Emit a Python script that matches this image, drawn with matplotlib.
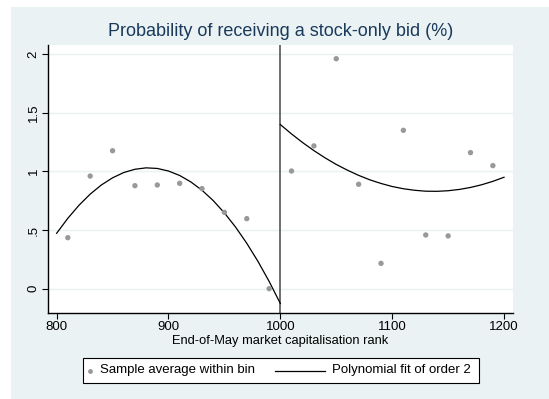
import numpy as np
import matplotlib.pyplot as plt
from matplotlib.patches import Rectangle
from matplotlib.lines import Line2D

plt.rcParams['font.family'] = ['Liberation Sans', 'DejaVu Sans']

# bin averages
bin_left = [810, 830, 850, 870, 890, 910, 930, 950, 970, 990]
avg_left = [0.435, 0.96, 1.176, 0.878, 0.884, 0.898, 0.853, 0.651, 0.597, 0.0]
bin_right = [1010, 1030, 1050, 1070, 1090, 1110, 1130, 1150, 1170, 1190]
avg_right = [1.003, 1.217, 1.96, 0.89, 0.216, 1.35, 0.458, 0.45, 1.16, 1.049]

# fitted curves
fit_x_left = [800, 810, 820, 830, 840, 850, 860, 870, 880, 890, 900,
              910, 920, 930, 940, 950, 960, 970, 980, 990, 1000]
fit_y_left = [0.472, 0.600, 0.711, 0.806, 0.884, 0.945, 0.990, 1.018, 1.030, 1.025, 1.003,
              0.965, 0.910, 0.839, 0.751, 0.646, 0.525, 0.387, 0.233, 0.062, -0.126]
fit_x_right = [1000, 1010, 1020, 1030, 1040, 1050, 1060, 1070, 1080, 1090, 1100,
               1110, 1120, 1130, 1140, 1150, 1160, 1170, 1180, 1190, 1200]
fit_y_right = [1.399, 1.319, 1.245, 1.177, 1.115, 1.059, 1.010, 0.966, 0.928, 0.897, 0.871,
               0.852, 0.839, 0.831, 0.830, 0.835, 0.846, 0.863, 0.886, 0.915, 0.950]

xticks = [800, 900, 1000, 1100, 1200]
yticks = [0, 0.5, 1, 1.5, 2]
ytick_labels = ['0', '.5', '1', '1.5', '2']

W, H = 549, 399
bg = '#eaf2f3'
dot = '#999999'
fig = plt.figure(figsize=(W / 100, H / 100), dpi=100)
fig.patch.set_facecolor('white')
fig.patches.append(Rectangle((11/W, 0), 1, 392/H, transform=fig.transFigure,
                             facecolor=bg, edgecolor='none', zorder=-10))

ax = fig.add_axes([48/W, 1-313/H, 465/W, 268/H])
ax.set_facecolor('white')

for y in yticks:
    ax.axhline(y, color=bg, lw=1, zorder=0)

ax.axvline(1000, color='#555555', lw=1.2, zorder=1)

ax.scatter(bin_left + bin_right, avg_left + avg_right, s=15, color=dot,
           edgecolors='none', zorder=3)
ax.plot(fit_x_left, fit_y_left, color='black', lw=0.9, zorder=2)
ax.plot(fit_x_right, fit_y_right, color='black', lw=0.9, zorder=2)

ax.set_xlim(792.3, 1208)
ax.set_ylim(-0.207, 2.077)
ax.set_xticks(xticks)
ax.set_yticks(yticks)
ax.set_yticklabels(ytick_labels, rotation=90, va='center')
ax.tick_params(labelsize=9.5, length=4, width=0.8, color='black', pad=2)

for side in ['top', 'right']:
    ax.spines[side].set_visible(False)
for side in ['left', 'bottom']:
    ax.spines[side].set_linewidth(1)

ax.set_xlabel('End-of-May market capitalisation rank', fontsize=9.3, labelpad=1)
fig.text(281/W, 1-31/H, 'Probability of receiving a stock-only bid (%)', fontsize=13,
         color='#1a3a5c', ha='center', va='center')

# legend box drawn by hand (Stata style)
def fx(px):
    return px / W

def fy(py):
    return 1 - py / H

fig.patches.append(Rectangle((fx(83), fy(383)), fx(479) - fx(83), fy(358) - fy(383),
                             transform=fig.transFigure, facecolor='white',
                             edgecolor='black', lw=0.8, zorder=5))
ly = fy(370.5)
fig.add_artist(Line2D([fx(90)], [ly], marker='o', markersize=3.5, color=dot,
                      markeredgecolor='none', transform=fig.transFigure, zorder=6))
fig.text(fx(100), ly, 'Sample average within bin', fontsize=9.5, va='center', zorder=6)
fig.add_artist(Line2D([fx(275), fx(325)], [ly, ly], color='black', lw=0.9,
                      transform=fig.transFigure, zorder=6))
fig.text(fx(332), ly, 'Polynomial fit of order 2', fontsize=9.5, va='center', zorder=6)

fig.savefig('out.png', dpi=100)
